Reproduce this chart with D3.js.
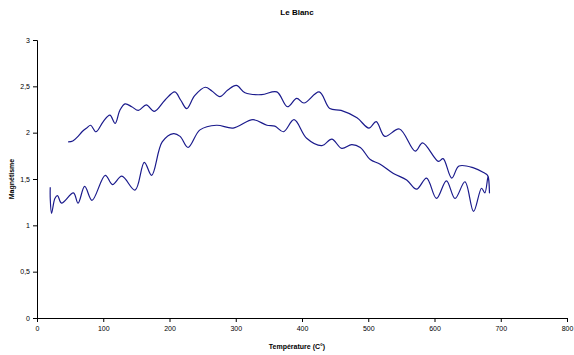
<!DOCTYPE html>
<html><head><meta charset="utf-8">
<script src="https://cdn.jsdelivr.net/npm/d3@7/dist/d3.min.js"></script>
<style>body{margin:0;background:#fff}svg{display:block;font-family:"Liberation Sans",Arial,sans-serif}</style>
</head><body><svg id="c" width="574" height="355"></svg>
<script>
const title = "Le Blanc";
const xLabel = "Température (C°)";
const yLabel = "Magnétisme";
const xTicks = [0,100,200,300,400,500,600,700,800];
const yTicks = [0,0.5,1,1.5,2,2.5,3];
// heating (upper curve), temperature ascending
const heatT = [47,54,62,68,75,81,89,100,110,118,125,133,143,153,165,177,193,208,217,226,238,254,264,276,288,301,314,339,362,378,392,403,426,442,459,483,501,512,525,547,571,582,606,613,626,637,659,674,680,683];
const heatV = [1.90,1.91,1.96,2.01,2.05,2.08,2.01,2.12,2.19,2.10,2.24,2.31,2.28,2.24,2.30,2.23,2.35,2.44,2.35,2.26,2.40,2.49,2.45,2.39,2.46,2.51,2.43,2.41,2.44,2.28,2.37,2.32,2.44,2.26,2.24,2.16,2.05,2.12,1.96,2.04,1.80,1.89,1.69,1.72,1.51,1.64,1.62,1.57,1.54,1.35];
// cooling (lower curve), temperature descending
const coolT = [681,676,671,659,646,631,618,603,588,573,558,538,518,503,488,475,460,445,430,407,388,372,359,347,326,296,271,246,228,216,206,189,173,162,148,128,114,103,83,72,62,55,37,31,27,22,20,20];
const coolV = [1.53,1.35,1.40,1.15,1.47,1.29,1.48,1.29,1.51,1.39,1.49,1.56,1.66,1.71,1.84,1.87,1.83,1.93,1.86,1.94,2.14,2.01,2.07,2.08,2.14,2.05,2.08,2.03,1.84,1.96,1.99,1.90,1.54,1.68,1.38,1.53,1.44,1.54,1.27,1.42,1.24,1.35,1.24,1.32,1.29,1.13,1.29,1.41];

const svg = d3.select("#c");
const x = d3.scaleLinear().domain([0,800]).range([37,567]);
const y = d3.scaleLinear().domain([0,3]).range([318,40]);
const fmt = d => String(d).replace(".", ",");

const gx = svg.append("g").attr("transform","translate(0,318)")
  .call(d3.axisBottom(x).tickValues(xTicks).tickSize(4).tickPadding(4));
const gy = svg.append("g").attr("transform","translate(37,0)")
  .call(d3.axisLeft(y).tickValues(yTicks).tickFormat(fmt).tickSize(4).tickPadding(3));
[gx,gy].forEach(g=>{
  g.select(".domain").attr("stroke","#000").attr("stroke-width",1);
  g.selectAll(".tick line").attr("stroke","#000");
  g.selectAll(".tick text").attr("font-size","7px").attr("fill","#000").attr("font-family","Liberation Sans, Arial, sans-serif");
});

const pts = heatT.map((t,i)=>[t,heatV[i]]).concat(coolT.map((t,i)=>[t,coolV[i]]));
const line = d3.line().x(d=>x(d[0])).y(d=>y(d[1])).curve(d3.curveCatmullRom.alpha(0.5));
svg.append("path").datum(pts).attr("d",line).attr("fill","none")
  .attr("stroke","#1a1a8c").attr("stroke-width",1.2);

svg.append("text").attr("x",297).attr("y",15).attr("text-anchor","middle")
  .attr("font-size","8px").attr("font-weight","bold").text(title);
svg.append("text").attr("x",297).attr("y",349).attr("text-anchor","middle")
  .attr("font-size","7px").attr("font-weight","bold").text(xLabel);
svg.append("text").attr("transform","translate(14,179) rotate(-90)").attr("text-anchor","middle")
  .attr("font-size","7px").attr("font-weight","bold").text(yLabel);
</script></body></html>
